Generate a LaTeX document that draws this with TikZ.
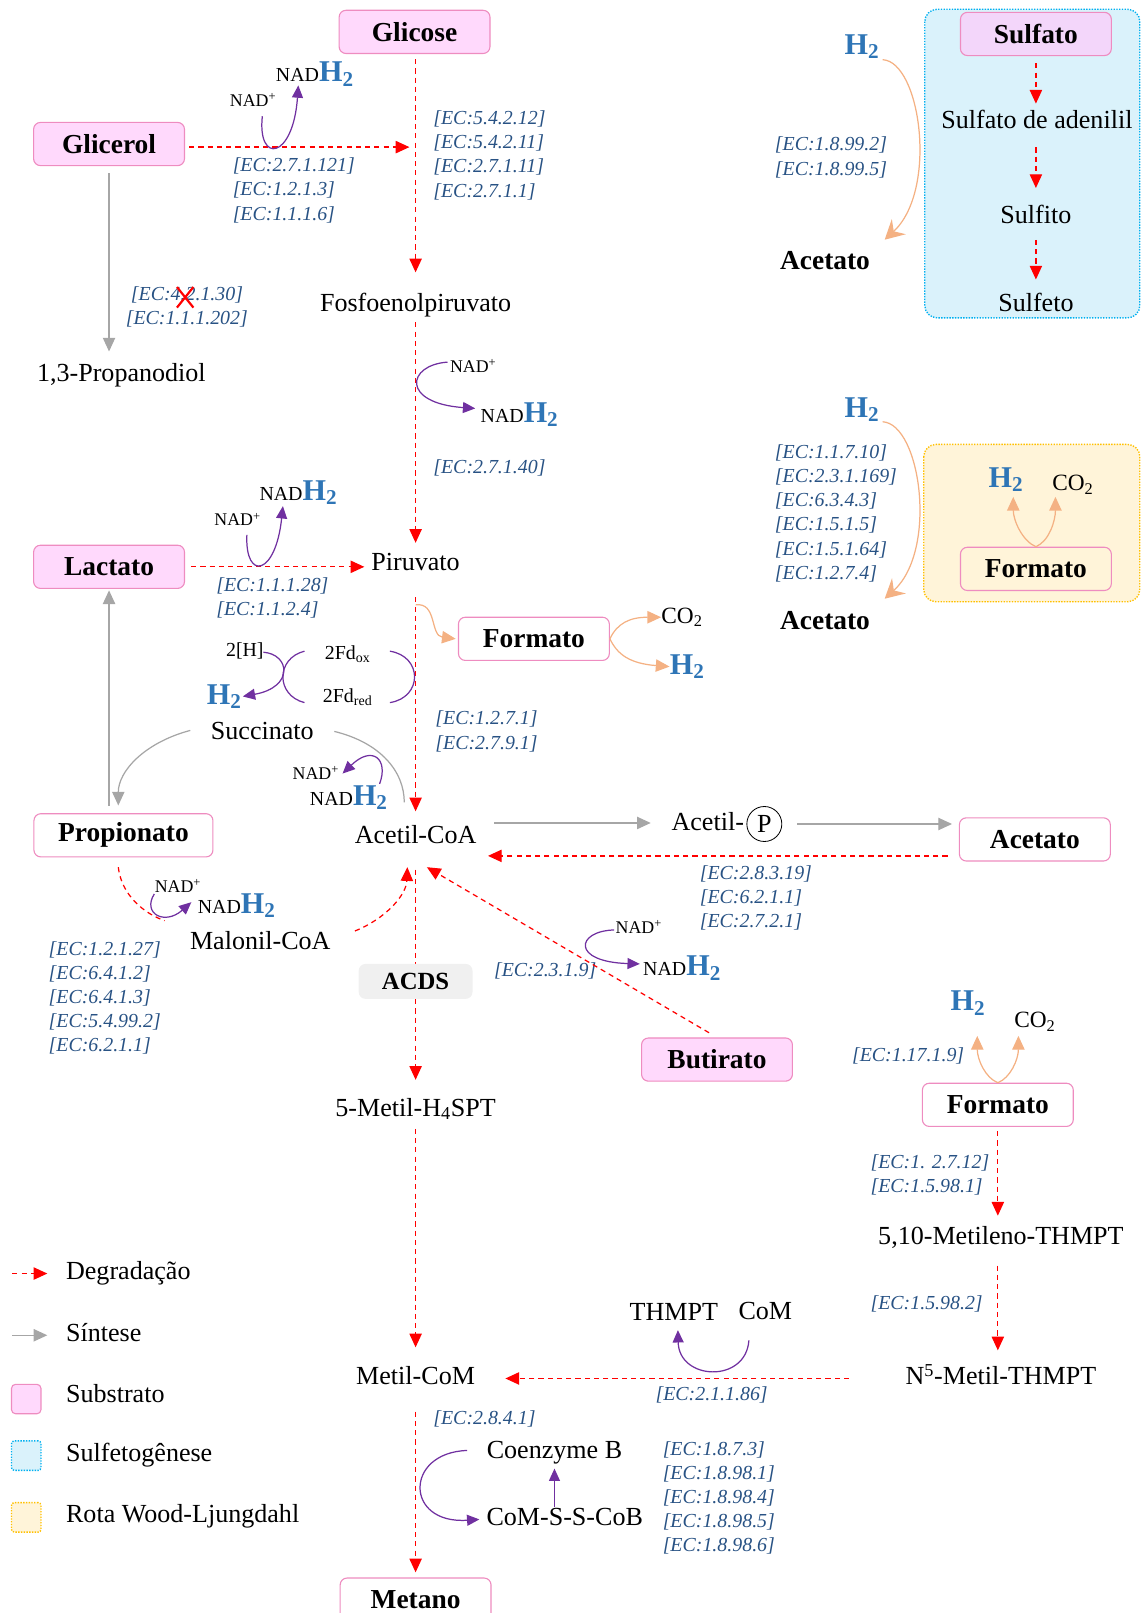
\documentclass[tikz,border=0pt]{standalone}
\usepackage{fontspec}
\setmainfont{Liberation Serif}
\usetikzlibrary{arrows.meta,calc}
\definecolor{pinkF}{RGB}{255,217,252}
\definecolor{pinkB}{RGB}{238,140,192}
\definecolor{lavF}{RGB}{243,214,250}
\definecolor{blueF}{RGB}{218,242,251}
\definecolor{blueB}{RGB}{0,176,240}
\definecolor{yellF}{RGB}{255,244,217}
\definecolor{yellB}{RGB}{255,192,0}
\definecolor{ecblue}{RGB}{40,82,132}
\definecolor{h2blue}{RGB}{46,117,182}
\definecolor{purp}{RGB}{112,48,160}
\definecolor{orangeA}{RGB}{244,177,131}
\definecolor{synthgray}{RGB}{166,166,166}
\definecolor{acdsF}{RGB}{240,240,240}
\newcommand\myHtwo[1][22]{{\color{h2blue}\bfseries\fontsize{#1}{#1}\selectfont H\textsubscript{2}}}
\newcommand\myNADH{{\fontsize{14.5}{16}\selectfont NAD}\myHtwo}
\newcommand\nl{\\{}}
\begin{document}
\begin{tikzpicture}[x=0.75pt,y=-0.75pt,
  txt/.style={font=\fontsize{19}{22}\selectfont, inner sep=0, text height=13pt, text depth=4pt},
  btxt/.style={font=\bfseries\fontsize{20}{22}\selectfont, inner sep=0, text height=13pt, text depth=4pt},
  small/.style={font=\fontsize{14.5}{16}\selectfont, inner sep=0},
  nadp/.style={font=\fontsize{13}{15}\selectfont, inner sep=0},
  subst/.style={rectangle, rounded corners=5pt, draw=pinkB, fill=pinkF, line width=0.8pt, minimum width=110pt, minimum height=31.5pt, inner sep=0, font=\bfseries\fontsize{20}{22}\selectfont},
  prod/.style={subst, fill=white},
  ec/.style={font=\itshape\fontsize{14.5}{17.6}\selectfont, text=ecblue, align=left, inner sep=0, anchor=west},
  deg/.style={red, dash pattern=on 3.75pt off 3pt, line width=0.9pt, -{Triangle[length=10pt,width=9pt]}},
  degl/.style={red, dash pattern=on 3.75pt off 3pt, line width=0.9pt},
  syn/.style={synthgray, line width=0.9pt, -{Triangle[length=10pt,width=9pt]}},
  synl/.style={synthgray, line width=0.9pt},
  pur/.style={purp, line width=0.9pt, -{Triangle[length=9pt,width=8pt]}},
  org/.style={orangeA, line width=0.9pt, -{Triangle[length=10pt,width=9pt]}},
  orgbig/.style={orangeA, line width=0.9pt, -{Stealth[length=14pt,width=15pt,inset=5pt]}},
  h2/.style={inner sep=0},
  co2/.style={font=\fontsize{17}{19}\selectfont, inner sep=0}
]
\useasboundingbox (0,0) rectangle (1109,1568);

% regions
\draw[blueB, fill=blueF, line width=1pt, dash pattern=on 1pt off 1pt, rounded corners=9pt] (899,9) rectangle (1108,309);
\draw[yellB, fill=yellF, line width=1pt, dash pattern=on 1pt off 1pt, rounded corners=9pt] (898,432) rectangle (1108,585);

% ---------- nodes ----------
\node[subst] (glicose) at (403,31) {Glicose};
\node[subst] (glicerol) at (106,140) {Glicerol};
\node[txt] (fosfo) at (404,297) {Fosfoenolpiruvato};
\node[txt] (propanodiol) at (118,365) {1,3-Propanodiol};
\node[txt] (piruvato) at (404,549) {Piruvato};
\node[subst] (lactato) at (106,551) {Lactato};
\node[prod] (formatoM) at (519,621) {Formato};
\node[txt] (succinato) at (255,713) {Succinato};
\node[txt] (acetilcoa) at (404,814) {Acetil-CoA};
\node[prod, minimum width=130.5pt] (propionato) at (120,812) {Propionato};
\node[txt] (malonil) at (253,917) {Malonil-CoA};
\node[txt] (acetilP) at (688,801) {Acetil-};
\node[circle, draw=black, line width=0.6pt, minimum size=25.5pt, inner sep=0, font=\fontsize{19}{22}\selectfont] (pcirc) at (743,801) {P};
\node[prod] (acetatoB) at (1006,816) {Acetato};
\node[subst] (butirato) at (697,1030) {Butirato};
\node[txt] (metilH) at (404,1079) {5-Metil-H\textsubscript{4}SPT};
\node[txt] (metilcom) at (404,1340) {Metil-CoM};
\node[prod] (metano) at (404,1555) {Metano};
\node[prod] (formatoR) at (970,1074) {Formato};
\node[txt] (metileno) at (973,1204) {5,10-Metileno-THMPT};
\node[txt] (n5) at (973,1340) {N\textsuperscript{5}-Metil-THMPT};
\node[txt] (thmpt) at (655,1278) {THMPT};
\node[txt] (com) at (744,1277) {CoM};
\node[txt] (coenzB) at (539,1412) {Coenzyme B};
\node[txt] (comssb) at (549,1477) {CoM-S-S-CoB};

% right top
\node[subst, fill=lavF] (sulfato) at (1007,33) {Sulfato};
\node[txt] (adenilil) at (1008,119) {Sulfato de adenilil};
\node[txt] (sulfito) at (1007,211) {Sulfito};
\node[txt] (sulfeto) at (1007,297) {Sulfeto};
\node[h2] (h2a) at (838,45) {\myHtwo};
\node[btxt] (acetatoA) at (802,256) {Acetato};
\node[h2] (h2b) at (838,398) {\myHtwo};
\node[btxt] (acetatoC) at (802,606) {Acetato};
\node[h2] (h2c) at (978,466) {\myHtwo};
\node[co2] (co2c) at (1043,471) {CO\textsubscript{2}};
\node[prod, fill=none] (formatoY) at (1007,553) {Formato};
\node[co2] (co2m) at (663,600) {CO\textsubscript{2}};
\node[h2] (h2m) at (668,648) {\myHtwo};
\node[h2] (h2r) at (941,975) {\myHtwo};
\node[co2] (co2r) at (1006,993) {CO\textsubscript{2}};

% cofactors
\node[nadp] (nadp1) at (246,97) {NAD\textsuperscript{+}};
\node[anchor=west, inner sep=0] (nadh1) at (268,72) {\myNADH};
\node[nadp] (nadp2) at (460,356) {NAD\textsuperscript{+}};
\node[anchor=west, inner sep=0] (nadh2) at (467,403) {\myNADH};
\node[nadp] (nadp3) at (231,505) {NAD\textsuperscript{+}};
\node[anchor=west, inner sep=0] (nadh3) at (252,479) {\myNADH};
\node[nadp] (nadp4) at (307,751) {NAD\textsuperscript{+}};
\node[anchor=west, inner sep=0] (nadh4) at (301,775) {\myNADH};
\node[nadp] (nadp5) at (173,861) {NAD\textsuperscript{+}};
\node[anchor=west, inner sep=0] (nadh5) at (192,880) {\myNADH};
\node[nadp] (nadp6) at (621,901) {NAD\textsuperscript{+}};
\node[anchor=west, inner sep=0] (nadh6) at (625,941) {\myNADH};
\node[small] (twoH) at (238,633) {2[H]};
\node[h2] (h2fd) at (218,677) {\myHtwo};
\node[small] (fdox) at (338,636) {2Fd\textsubscript{ox}};
\node[small] (fdred) at (338,678) {2Fd\textsubscript{red}};

% EC labels
\node[ec] (ec1) at (421,151) {[EC:5.4.2.12]\nl[EC:5.4.2.11]\nl[EC:2.7.1.11]\nl[EC:2.7.1.1]};
\node[ec] (ec2) at (226,185) {[EC:2.7.1.121]\nl[EC:1.2.1.3]\nl[EC:1.1.1.6]};
\node[ec] (ec3a) at (127,287) {[EC:4.2.1.30]};
\node[ec] (ec3b) at (122,310) {[EC:1.1.1.202]};
\node[ec] (ec4) at (753,153) {[EC:1.8.99.2]\nl[EC:1.8.99.5]};
\node[ec] (ec5) at (421,455) {[EC:2.7.1.40]};
\node[ec] (ec6) at (753,499) {[EC:1.1.7.10]\nl[EC:2.3.1.169]\nl[EC:6.3.4.3]\nl[EC:1.5.1.5]\nl[EC:1.5.1.64]\nl[EC:1.2.7.4]};
\node[ec] (ec7) at (210,581) {[EC:1.1.1.28]\nl[EC:1.1.2.4]};
\node[ec] (ec8) at (423,711) {[EC:1.2.7.1]\nl[EC:2.7.9.1]};
\node[ec] (ec9) at (680,873) {[EC:2.8.3.19]\nl[EC:6.2.1.1]\nl[EC:2.7.2.1]};
\node[ec] (ec10) at (47,970) {[EC:1.2.1.27]\nl[EC:6.4.1.2]\nl[EC:6.4.1.3]\nl[EC:5.4.99.2]\nl[EC:6.2.1.1]};
\node[ec] (ec11) at (480,944) {[EC:2.3.1.9]};
\node[ec] (ec12) at (828,1026) {[EC:1.17.1.9]};
\node[ec] (ec13) at (846,1142) {[EC:1. 2.7.12]\nl[EC:1.5.98.1]};
\node[ec] (ec14) at (846,1268) {[EC:1.5.98.2]};
\node[ec] (ec15) at (637,1356) {[EC:2.1.1.86]};
\node[ec] (ec16) at (421,1379) {[EC:2.8.4.1]};
\node[ec] (ec17) at (644,1456) {[EC:1.8.7.3]\nl[EC:1.8.98.1]\nl[EC:1.8.98.4]\nl[EC:1.8.98.5]\nl[EC:1.8.98.6]};

% red X
\coordinate (xc) at (180,289);
\draw[red, line width=1.6pt] ($(xc)+(-8,-10)$) -- ($(xc)+(8,10)$) ($(xc)+(8,-10)$) -- ($(xc)+(-8,10)$);

% ---------- main degradation column ----------
\draw[deg, shorten <=3.75pt, shorten >=15.5pt] (glicose.south -| fosfo.north) -- (fosfo.north);
\draw[deg, shorten <=3.5pt, shorten >=7.3pt] (fosfo.south) -- (piruvato.north);
\draw[deg, shorten <=15pt, shorten >=10.3pt] (piruvato.south) -- (acetilcoa.north);
\draw[deg, shorten <=14.8pt, shorten >=13.3pt] (acetilcoa.south) -- (metilH.north);
\draw[deg, shorten <=5pt, shorten >=14pt] (metilH.south) -- (metilcom.north);
\draw[deg, shorten <=15.5pt, shorten >=3.75pt] (metilcom.south) -- (metano.north);
\draw[deg, shorten <=3pt, shorten >=4.5pt] ([yshift=-2.25pt]glicerol.east) -- ([yshift=-2.25pt]glicerol.east -| fosfo.north);
\draw[deg, shorten <=4.5pt, shorten >=5pt] (lactato.east) -- (lactato.east -| piruvato.west);
\draw[deg, shorten <=8.25pt, shorten >=8.25pt] ([yshift=-12pt]acetatoB.west) -- ([yshift=-12pt]acetatoB.west -| acetilcoa.east);
\coordinate (butTip) at (415,843);
\draw[deg, shorten <=6.75pt] (butirato.north) -- (butTip);
\draw[deg, shorten <=41pt, shorten >=22pt] (n5.west) -- (n5.west -| metilcom.east);
% right column
\draw[deg, shorten <=3pt, shorten >=8pt] (formatoR.south) -- (formatoR.south |- metileno.north);
\draw[deg, shorten <=11pt, shorten >=11.8pt] (metileno.south -| formatoR.south) -- (n5.north -| formatoR.south);
\draw[deg, shorten <=5.25pt, shorten >=5pt] (sulfato.south) -- (sulfato.south |- adenilil.north);
\draw[deg, shorten <=9.5pt, shorten >=12.5pt] (adenilil.south -| sulfato.south) -- (sulfito.north -| sulfato.south);
\draw[deg, shorten <=8pt, shorten >=10.3pt] (sulfito.south -| sulfato.south) -- (sulfeto.north -| sulfato.south);
% propionate / malonyl
\coordinate (pm1) at (115,843);
\coordinate (pm2) at (160,895);
\draw[degl] (pm1) .. controls (118,870) and (140,888) .. (pm2);
\coordinate (ma1) at (345,905);
\coordinate (ma2) at (396,843);
\draw[deg] (ma1) .. controls (375,893) and (395,870) .. (ma2);

% ---------- synthesis (grey) ----------
\draw[syn, shorten <=5.25pt, shorten >=8.8pt] (glicerol.south) -- (glicerol.south |- propanodiol.north);
\draw[syn, shorten <=5.25pt, shorten >=1pt] (lactato.south |- propionato.north) -- (lactato.south);
\draw[syn, shorten <=12.75pt, shorten >=15pt] ([yshift=10.5pt]acetilcoa.east) -- ([yshift=10.5pt]acetilcoa.east -| acetilP.west);
\draw[syn, shorten <=11pt, shorten >=5pt] (pcirc.east) -- (pcirc.east -| acetatoB.west);
\coordinate (sc1) at (185,710);
\coordinate (sc2) at (115,783);
\draw[syn] (sc1) .. controls (140,722) and (115,750) .. (sc2);
\coordinate (sc3) at (325,711);
\coordinate (sc4) at (393,780);
\draw[synl] (sc3) .. controls (370,722) and (393,750) .. (sc4);

% ---------- purple cofactor arrows ----------
\coordinate (p1a) at (255,113); \coordinate (p1b) at (290,83);
\draw[pur] (p1a) .. controls (250,160) and (285,155) .. (p1b);
\coordinate (p2a) at (435,352); \coordinate (p2b) at (462,397);
\draw[pur] (p2a) .. controls (395,355) and (390,392) .. (p2b);
\coordinate (p3a) at (240,520); \coordinate (p3b) at (275,492);
\draw[pur] (p3a) .. controls (238,565) and (268,560) .. (p3b);
\coordinate (p4a) at (369,762); \coordinate (p4b) at (333,752);
\draw[pur] (p4a) .. controls (378,738) and (362,724) .. (p4b);
\coordinate (p5a) at (150,869); \coordinate (p5b) at (186,877);
\draw[pur] (p5a) .. controls (138,888) and (160,900) .. (p5b);
\coordinate (p6a) at (597,904); \coordinate (p6b) at (622,937);
\draw[pur] (p6a) .. controls (560,905) and (555,935) .. (p6b);
\coordinate (p7a) at (256,634); \coordinate (p7b) at (236,677);
\draw[pur] (p7a) .. controls (282,636) and (286,668) .. (p7b);
\coordinate (p8a) at (296,633); \coordinate (p8b) at (296,683);
\draw[purp, line width=0.9pt] (p8a) .. controls (268,640) and (268,676) .. (p8b);
\coordinate (p9a) at (379,633); \coordinate (p9b) at (379,683);
\draw[purp, line width=0.9pt] (p9a) .. controls (411,638) and (411,678) .. (p9b);
\coordinate (p10a) at (728,1303); \coordinate (p10b) at (659,1293);
\draw[pur] (p10a) .. controls (725,1345) and (660,1342) .. (p10b);
\coordinate (p11a) at (454,1410); \coordinate (p11b) at (466,1477);
\draw[pur] (p11a) .. controls (393,1412) and (393,1482) .. (p11b);
\draw[pur, shorten <=0pt, shorten >=3pt] (comssb.north -| coenzB.south) -- (coenzB.south);

% ---------- orange arrows ----------
\coordinate (o1a) at (858,58); \coordinate (o1b) at (860,233);
\draw[orgbig] (o1a) .. controls (895,60) and (912,185) .. (o1b);
\coordinate (o2a) at (858,410); \coordinate (o2b) at (860,582);
\draw[orgbig] (o2a) .. controls (895,412) and (912,535) .. (o2b);
\coordinate (o3a) at (404,588); \coordinate (o3b) at (443,621);
\draw[org] (o3a) .. controls (425,585) and (418,618) .. (o3b);
\draw[org] (formatoM.east) .. controls (600,606) and (612,600) .. (co2m.west);
\draw[org] (formatoM.east) .. controls (600,636) and (612,645) .. (h2m.west);
\draw[org] (formatoY.north) .. controls (994,526) and (985,506) .. (985,483);
\draw[org] (formatoY.north) .. controls (1020,526) and (1026,506) .. (1026,483);
\draw[org] (formatoR.north) .. controls (958,1048) and (950,1030) .. (950,1007);
\draw[org] (formatoR.north) .. controls (982,1048) and (990,1030) .. (990,1007);

% ACDS box over the line
\node[rectangle, rounded corners=5pt, fill=acdsF, minimum width=83pt, minimum height=25.5pt, inner sep=0, font=\bfseries\fontsize{18}{20}\selectfont] (acds) at (404,954) {ACDS};

% ---------- legend ----------
\coordinate (l1a) at (12,1238); \coordinate (l1b) at (46,1238);
\draw[deg] (l1a) -- (l1b);
\node[txt, anchor=west] (lg1) at (64,1238) {Degradação};
\coordinate (l2a) at (12,1298); \coordinate (l2b) at (46,1298);
\draw[syn] (l2a) -- (l2b);
\node[txt, anchor=west] (lg2) at (64,1298) {Síntese};
\node[rectangle, rounded corners=3pt, draw=pinkB, fill=pinkF, line width=0.8pt, minimum size=21.5pt, inner sep=0] (lgs3) at (25.5,1360) {};
\node[txt, anchor=west] (lg3) at (64,1357) {Substrato};
\node[rectangle, rounded corners=2pt, draw=blueB, fill=blueF, line width=1pt, dash pattern=on 1pt off 1pt, minimum size=21.5pt, inner sep=0] (lgs4) at (25.5,1415) {};
\node[txt, anchor=west] (lg4) at (64,1415) {Sulfetogênese};
\node[rectangle, rounded corners=2pt, draw=yellB, fill=yellF, line width=1pt, dash pattern=on 1pt off 1pt, minimum size=21.5pt, inner sep=0] (lgs5) at (25.5,1475) {};
\node[txt, anchor=west] (lg5) at (64,1474) {Rota Wood-Ljungdahl};
\end{tikzpicture}
\end{document}
